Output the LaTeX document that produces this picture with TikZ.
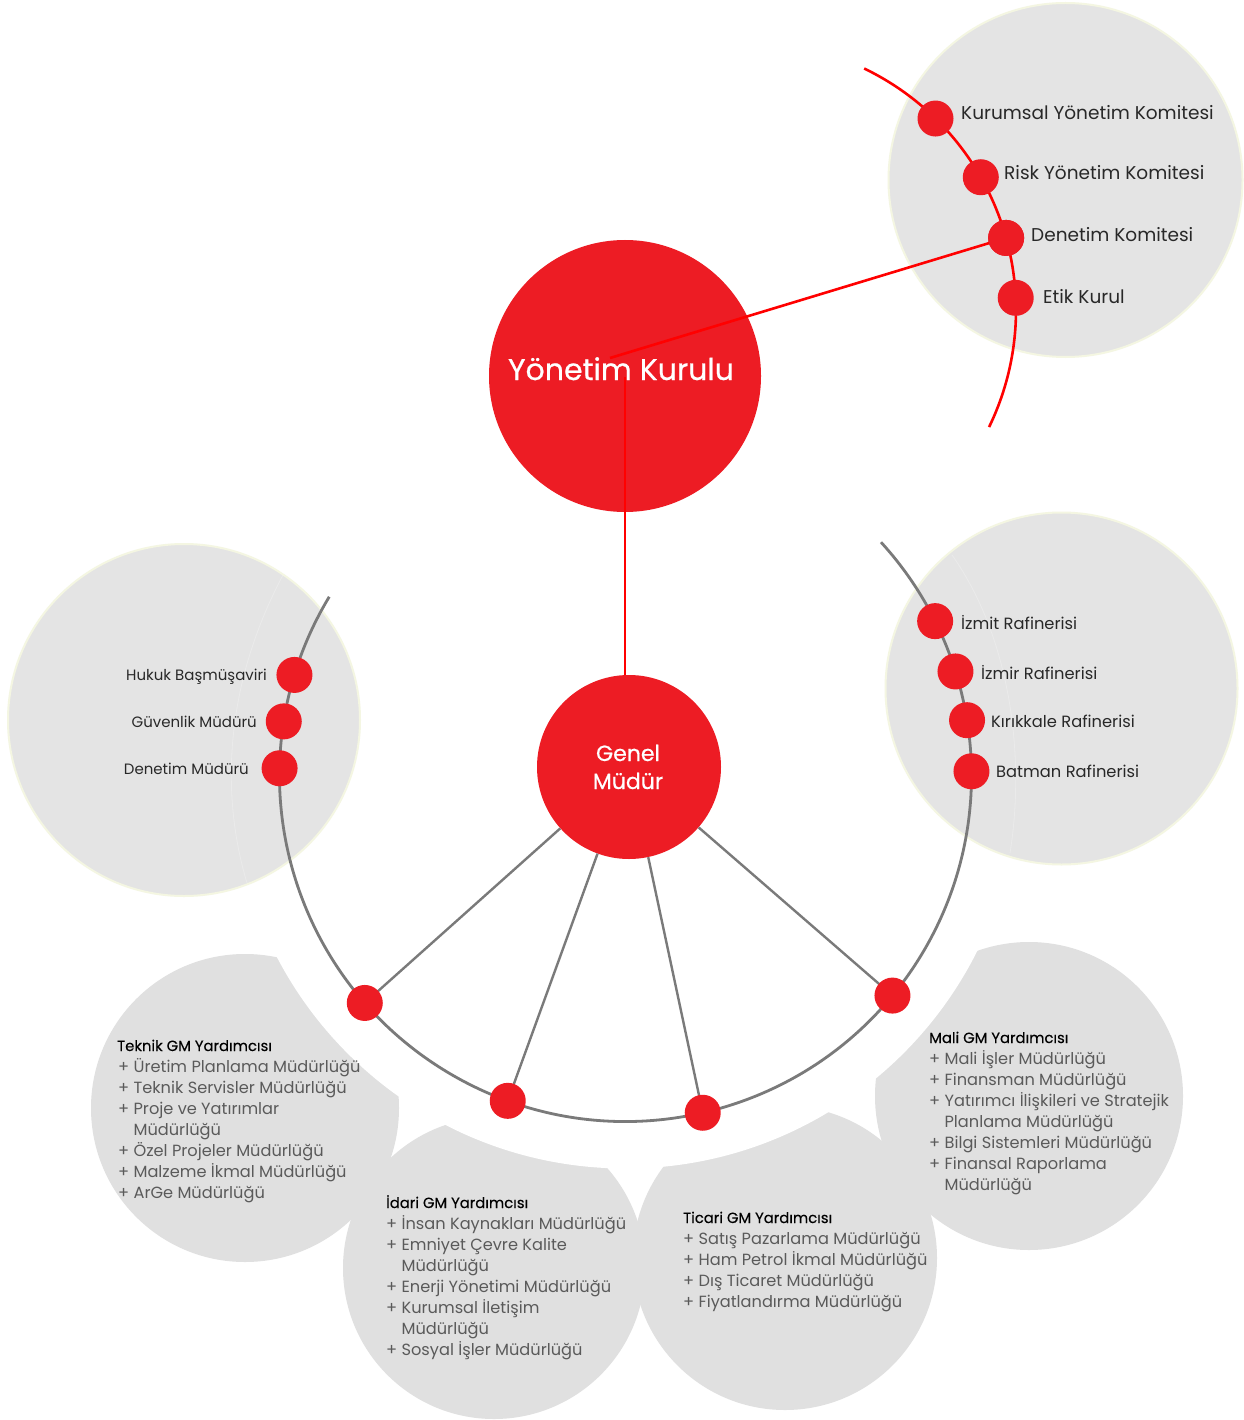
\documentclass[tikz,border=0pt]{standalone}
\usepackage{fontspec}
\setmainfont{Poppins}
\newfontfamily\pmed{Poppins}[FakeBold=0.6]
\newfontfamily\ptl{Poppins}[FakeBold=0.25]
\definecolor{ored}{RGB}{237,28,36}
\definecolor{lred}{RGB}{255,0,0}
\definecolor{cfill}{RGB}{228,228,228}
\definecolor{bfill}{RGB}{224,224,224}
\definecolor{cedge}{RGB}{244,246,226}
\definecolor{gline}{RGB}{122,122,122}
\definecolor{ltext}{RGB}{40,40,40}
\definecolor{itext}{RGB}{90,90,90}
\begin{document}
\begin{tikzpicture}[x=1pt,y=-1pt,
  dot/.style={circle,fill=ored,minimum size=36,inner sep=0pt},
  bigred/.style={circle,fill=ored,inner sep=0pt},
  redline/.style={draw=lred,line width=2.6},
  greyline/.style={draw=gline,line width=2.8},
  spoke/.style={draw=gline,line width=2.4},
  greycirc/.style={fill=cfill,draw=cedge,line width=2},
  com/.style={text=ltext,font=\fontsize{18.5}{23}\selectfont,inner sep=0pt,anchor=base west},
  raf/.style={text=ltext,font=\fontsize{16.3}{20}\selectfont,inner sep=0pt,anchor=base west},
  lft/.style={text=ltext,font=\fontsize{15}{20}\selectfont,inner sep=0pt,anchor=base east},
  ttl/.style={text=black,font=\ptl\fontsize{14.8}{21}\selectfont,inner sep=0pt,anchor=base west},
  itm/.style={text=itext,font=\fontsize{16.2}{21}\selectfont,inner sep=0pt,anchor=base west}]
\path[use as bounding box,fill=white] (0,0) rectangle (1243,1420);
% bottom blobs
\fill[bfill] (245,1108) circle[radius=154];
\fill[bfill] (494,1268) circle[radius=151];
\fill[bfill] (785,1258) circle[radius=152];
\fill[bfill] (1029,1096) circle[radius=154];
\coordinate (gc) at (625.5,775.5);
\fill[white] (gc) circle[radius=393];
% grey circles
\path[greycirc] (1065.5,180) circle[radius=177];
\path[greycirc] (184,720) circle[radius=176];
\path[greycirc] (1061.5,688.5) circle[radius=176];
\draw[white,opacity=0.25,line width=0.8] (283,575) .. controls (222,690) and (222,800) .. (247,883);
\draw[white,opacity=0.25,line width=0.8] (952,555) .. controls (1012,640) and (1025,760) .. (1010,853);
% arcs
\coordinate (rc) at (748,310);
\draw[redline] ([shift={(-64.3:268)}]rc) arc[start angle=-64.3,end angle=25.9,radius=268];
\draw[greyline] ([shift={(211.1:346)}]gc) arc[start angle=211.1,end angle=-42.4,radius=346];
% main circles
\node[bigred,minimum size=272] (yk) at (625,376) {};
\node[bigred,minimum size=184] (gm) at (629,767) {};
\node[text=white,font=\pmed\fontsize{30}{34}\selectfont,inner sep=0pt,anchor=base] (ykt) at (621,380) {Yönetim Kurulu};
\node[text=white,font=\pmed\fontsize{22}{28}\selectfont,inner sep=0pt,anchor=base] (gmt1) at (628,761) {Genel};
\node[text=white,font=\pmed\fontsize{22}{28}\selectfont,inner sep=0pt,anchor=base] (gmt2) at (628,789) {Müdür};
% dots on red arc
\node[dot] (kym) at ([shift={(-45.6:268)}]rc) {};
\node[dot] (rym) at ([shift={(-29.7:268)}]rc) {};
\node[dot] (dkm) at ([shift={(-15.6:268)}]rc) {};
\node[dot] (etk) at ([shift={(-2.6:268)}]rc) {};
% red connectors
\coordinate (yka) at (610,358);
\coordinate (ykb) at (625,377);
\draw[redline] (yka) -- (dkm.center);
\draw[redline] (ykb) -- (ykb |- gm.north);
\node[dot] (dkm2) at (dkm) {};
% dots on grey arc
\node[dot] (huk) at ([shift={(196.9:346)}]gc) {};
\node[dot] (guv) at ([shift={(189.0:346)}]gc) {};
\node[dot] (den) at ([shift={(181.2:346)}]gc) {};
\node[dot] (bat) at ([shift={(-0.7:346)}]gc) {};
\node[dot] (kir) at ([shift={(-9.2:346)}]gc) {};
\node[dot] (izr) at ([shift={(-17.5:346)}]gc) {};
\node[dot] (izt) at ([shift={(-26.5:346)}]gc) {};
\coordinate (tekc) at ([shift={(138.9:346)}]gc);
\coordinate (idac) at ([shift={(109.9:346)}]gc);
\coordinate (ticc) at ([shift={(77.1:346)}]gc);
\coordinate (malc) at ([shift={(39.5:346)}]gc);
\draw[spoke] (gm) -- (tekc);
\draw[spoke] (gm) -- (idac);
\draw[spoke] (gm) -- (ticc);
\draw[spoke] (gm) -- (malc);
\node[dot] (tek) at (tekc) {};
\node[dot] (ida) at (idac) {};
\node[dot] (tic) at (ticc) {};
\node[dot] (mal) at (malc) {};
% committee labels
\node[com] (l1) at (961,120) {Kurumsal Yönetim Komitesi};
\node[com] (l2) at (1004,180) {Risk Yönetim Komitesi};
\node[com] (l3) at (1031,242) {Denetim Komitesi};
\node[com] (l4) at (1043,303) {Etik Kurul};
% refineries
\node[raf] (r1) at (961,629) {İzmit Rafinerisi};
\node[raf] (r2) at (981,679) {İzmir Rafinerisi};
\node[raf] (r3) at (991,727) {Kırıkkale Rafinerisi};
\node[raf] (r4) at (996,777) {Batman Rafinerisi};
% left labels
\node[lft] (h1) at (267,680) {Hukuk Başmüşaviri};
\node[lft] (h2) at (257,727) {Güvenlik Müdürü};
\node[lft] (h3) at (249,774) {Denetim Müdürü};
% Teknik
\node[ttl] (tk0) at (117,1051) {Teknik GM Yardımcısı};
\foreach \s [count=\i] in {+ Üretim Planlama Müdürlüğü,+ Teknik Servisler Müdürlüğü,+ Proje ve Yatırımlar,\hphantom{+ }Müdürlüğü,+ Özel Projeler Müdürlüğü,+ Malzeme İkmal Müdürlüğü,+ ArGe Müdürlüğü}
  \node[itm] (tk\i) at (118,{1051+21*\i}) {\s};
% Idari
\node[ttl] (id0) at (386,1208) {İdari GM Yardımcısı};
\foreach \s [count=\i] in {+ İnsan Kaynakları Müdürlüğü,+ Emniyet Çevre Kalite,\hphantom{+ }Müdürlüğü,+ Enerji Yönetimi Müdürlüğü,+ Kurumsal İletişim,\hphantom{+ }Müdürlüğü,+ Sosyal İşler Müdürlüğü}
  \node[itm] (id\i) at (386,{1208+21*\i}) {\s};
% Ticari
\node[ttl] (ti0) at (683,1223) {Ticari GM Yardımcısı};
\foreach \s [count=\i] in {+ Satış Pazarlama Müdürlüğü,+ Ham Petrol İkmal Müdürlüğü,+ Dış Ticaret Müdürlüğü,+ Fiyatlandırma Müdürlüğü}
  \node[itm] (ti\i) at (683,{1223+21*\i}) {\s};
% Mali
\node[ttl] (ma0) at (929,1043) {Mali GM Yardımcısı};
\foreach \s [count=\i] in {+ Mali İşler Müdürlüğü,+ Finansman Müdürlüğü,+ Yatırımcı İlişkileri ve Stratejik,\hphantom{+ }Planlama Müdürlüğü,+ Bilgi Sistemleri Müdürlüğü,+ Finansal Raporlama,\hphantom{+ }Müdürlüğü}
  \node[itm] (ma\i) at (929,{1043+21*\i}) {\s};
\end{tikzpicture}
\end{document}
